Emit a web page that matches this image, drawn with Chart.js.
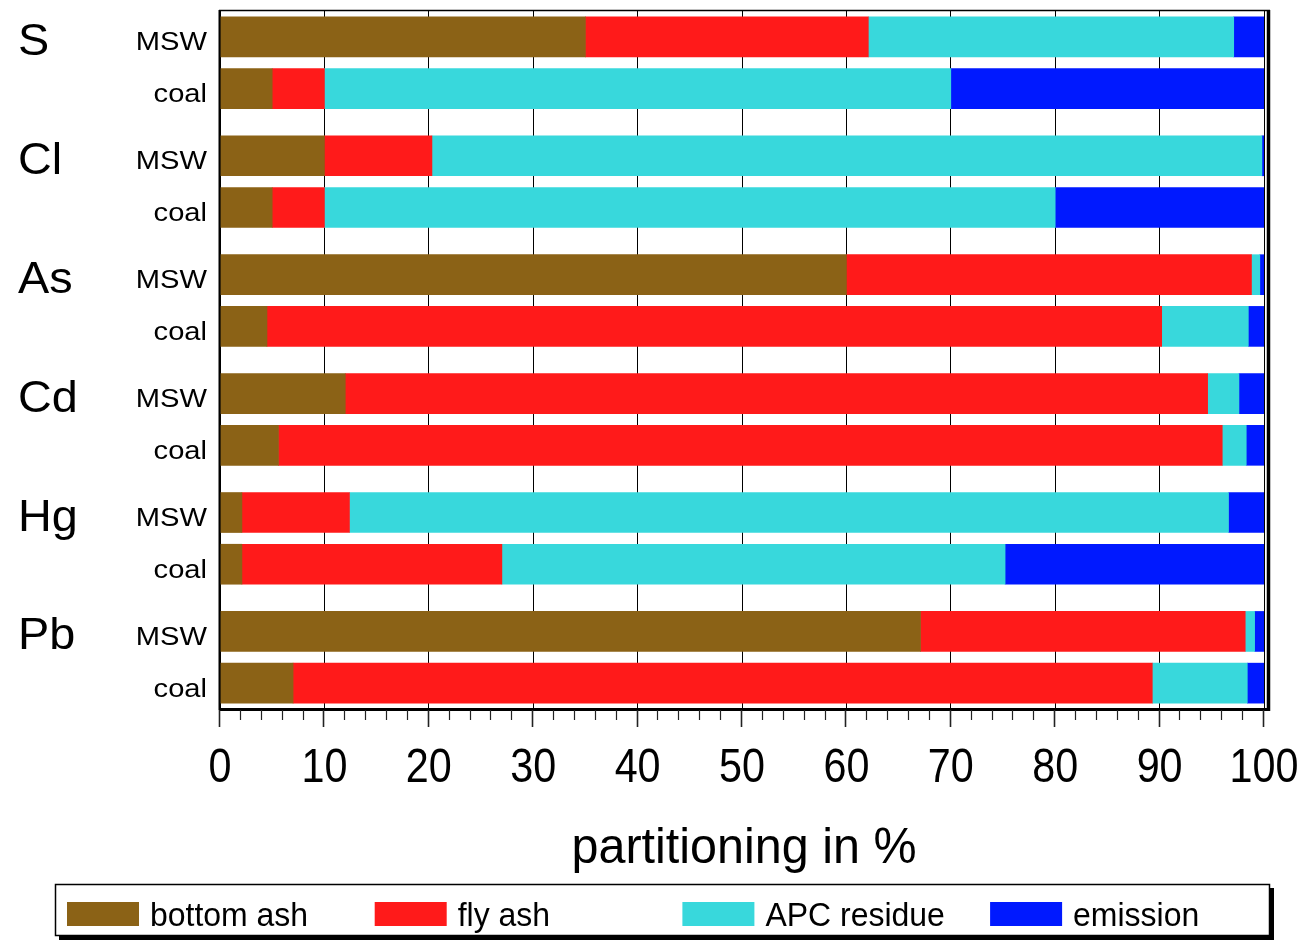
<!DOCTYPE html>
<html>
<head>
<meta charset="utf-8">
<title>Partitioning of S, Cl and heavy metals</title>
<script src="https://cdn.jsdelivr.net/npm/chart.js@4/dist/chart.umd.min.js"></script>
<style>
  html, body { margin: 0; padding: 0; background: #ffffff; }
  #c { display: block; }
</style>
</head>
<body>
<canvas id="c" width="1303" height="944"></canvas>
<script>
// Elements and fuel types, one bar per (element, fuel) pair, in drawing order
const elements = ['S', 'Cl', 'As', 'Cd', 'Hg', 'Pb'];
const sources = ['MSW', 'coal'];

// Partitioning in % (S MSW, S coal, Cl MSW, Cl coal, ... Pb coal)
const bottomAsh  = [35.0,  5.0, 10.0,  5.0, 60.0,  4.5, 12.0,  5.6,  2.1,  2.1, 67.1,  7.0];
const flyAsh     = [27.1,  5.0, 10.3,  5.0, 38.8, 85.7, 82.6, 90.4, 10.3, 24.9, 31.1, 82.3];
const apcResidue = [35.0, 60.0, 79.5, 70.0,  0.8,  8.3,  3.0,  2.3, 84.2, 48.2,  0.9,  9.1];
const emission   = [ 2.9, 30.0,  0.2, 20.0,  0.4,  1.5,  2.4,  1.7,  3.4, 24.8,  0.9,  1.6];

const seriesNames = ['bottom ash', 'fly ash', 'APC residue', 'emission'];
const xTickLabels = [0, 10, 20, 30, 40, 50, 60, 70, 80, 90, 100];
const axisTitle = 'partitioning in %';

const colors = ['#8b6216', '#ff1a1a', '#38d8dc', '#0019ff'];
const FONT = "'Liberation Sans', Arial, Helvetica, sans-serif";

// Row layout: each element is a group of two bars; groups are spaced a bit wider apart
const GROUP_STEP = 2.3;
function rowPos(i) {
  const g = Math.floor(i / sources.length);
  const k = i % sources.length;
  return g * GROUP_STEP + k;
}
const rowCount = elements.length * sources.length;

function seriesData(values) {
  return values.map((v, i) => ({ x: v, y: rowPos(i) }));
}

const seriesValues = [bottomAsh, flyAsh, apcResidue, emission];
const datasets = seriesValues.map((vals, s) => ({
  label: seriesNames[s],
  data: seriesData(vals),
  backgroundColor: colors[s],
  borderWidth: 0,
  barThickness: 40
}));

function drawText(ctx, text, x, y, size, align, sx) {
  ctx.save();
  ctx.translate(x, y);
  ctx.scale(sx, 1);
  ctx.font = size + 'px ' + FONT;
  ctx.textAlign = align;
  ctx.textBaseline = 'alphabetic';
  ctx.fillStyle = '#000';
  ctx.fillText(text, 0, 0);
  ctx.restore();
}

// Frame, axis ticks, row labels, axis title and boxed legend
const decorations = {
  id: 'decorations',
  afterDraw(chart) {
    const ctx = chart.ctx;
    const xs = chart.scales.x;
    const ys = chart.scales.y;
    const a = chart.chartArea;

    ctx.save();
    ctx.strokeStyle = '#000';
    ctx.lineCap = 'butt';

    // plot frame: thin top/left, heavy right/bottom
    ctx.lineWidth = 1.5;
    ctx.beginPath();
    ctx.moveTo(a.left - 1, a.top - 0.5);
    ctx.lineTo(a.right + 6, a.top - 0.5);
    ctx.stroke();
    ctx.lineWidth = 2;
    ctx.beginPath();
    ctx.moveTo(a.left - 0.5, a.top - 1);
    ctx.lineTo(a.left - 0.5, a.bottom + 1);
    ctx.stroke();
    ctx.lineWidth = 3.5;
    ctx.beginPath();
    ctx.moveTo(a.right + 4.5, a.top - 1);
    ctx.lineTo(a.right + 4.5, a.bottom + 2);
    ctx.stroke();
    ctx.lineWidth = 3;
    ctx.beginPath();
    ctx.moveTo(a.left - 1, a.bottom + 0.5);
    ctx.lineTo(a.right + 6, a.bottom + 0.5);
    ctx.stroke();

    // tick marks below the axis: major every 10, minor every 2
    ctx.strokeStyle = '#222';
    for (let v = xs.min; v <= xs.max; v += 2) {
      const px = Math.round(xs.getPixelForValue(v)) - 0.5;
      const major = v % 10 === 0;
      ctx.lineWidth = major ? 1.6 : 1.2;
      ctx.beginPath();
      ctx.moveTo(px, a.bottom + 1);
      ctx.lineTo(px, a.bottom + (major ? 18 : 11));
      ctx.stroke();
    }

    // tick labels
    xTickLabels.forEach(v => {
      drawText(ctx, String(v), xs.getPixelForValue(v), a.bottom + 73, 48, 'center', 0.86);
    });

    // axis title
    drawText(ctx, axisTitle, (a.left + a.right) / 2 + 2, a.bottom + 154, 50, 'center', 0.97);

    // row labels
    for (let i = 0; i < rowCount; i++) {
      const py = ys.getPixelForValue(rowPos(i));
      const k = i % sources.length;
      if (k === 0) {
        drawText(ctx, elements[Math.floor(i / sources.length)], 18, py + 18, 45, 'left', 1.04);
      }
      drawText(ctx, sources[k], 207, py + 13.5, 26, 'right', 1.12);
    }

    // legend box with drop shadow
    const lx = 55, ly = 884, lw = 1215, lh = 52;
    ctx.fillStyle = '#000';
    ctx.fillRect(lx + 4, ly + 4, lw, lh);
    ctx.fillStyle = '#fff';
    ctx.fillRect(lx, ly, lw, lh);
    ctx.lineWidth = 1.5;
    ctx.strokeStyle = '#000';
    ctx.strokeRect(lx + 0.5, ly + 0.5, lw - 1, lh - 1);

    const itemStep = 307.7;
    chart.data.datasets.forEach((ds, s) => {
      const sx = 67 + s * itemStep;
      ctx.fillStyle = ds.backgroundColor;
      ctx.fillRect(sx, 902, 72, 24);
      drawText(ctx, ds.label, sx + 83, 926, 34, 'left', 0.94);
    });

    ctx.restore();
  }
};

new Chart(document.getElementById('c'), {
  type: 'bar',
  data: { datasets },
  options: {
    indexAxis: 'y',
    responsive: false,
    animation: false,
    devicePixelRatio: 1,
    layout: { padding: { left: 220, right: 39, top: 11, bottom: 235 } },
    plugins: {
      legend: { display: false },
      tooltip: { enabled: false },
      title: { display: false }
    },
    scales: {
      x: {
        type: 'linear',
        stacked: true,
        min: 0,
        max: 100,
        ticks: { display: false, stepSize: 10 },
        grid: { color: '#000', lineWidth: 1, drawTicks: false },
        border: { display: false }
      },
      y: {
        type: 'linear',
        stacked: true,
        reverse: true,
        offset: false,
        grid: { offset: false },
        min: -0.5,
        max: (elements.length - 1) * GROUP_STEP + sources.length - 0.5,
        display: false
      }
    }
  },
  plugins: [decorations]
});
</script>
</body>
</html>
